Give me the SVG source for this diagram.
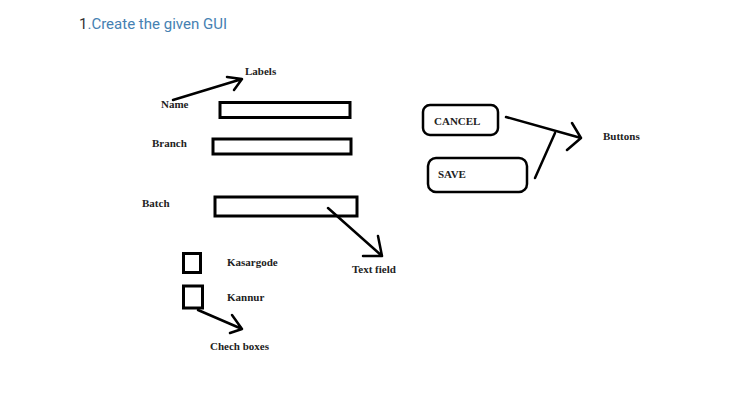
<svg xmlns="http://www.w3.org/2000/svg" width="743" height="414" viewBox="0 0 743 414">
<defs>
<style>
.lbl{font-family:"Liberation Serif","Times New Roman",serif;font-weight:bold;font-size:11px;fill:#222}
.box{fill:none;stroke:#000;stroke-width:3}
.btn{fill:none;stroke:#000;stroke-width:2.5}
.ln{fill:none;stroke:#000;stroke-width:2.5;stroke-linecap:round;stroke-linejoin:round}
</style>
</defs>
<rect width="743" height="414" fill="#fff"/>
<text x="79" y="29" font-family="Roboto,'Liberation Sans',sans-serif" font-size="15.5" fill="#4581b2" textLength="148" lengthAdjust="spacingAndGlyphs"><tspan fill="#333">1</tspan>.Create the given GUI</text>

<g id="name-label"><text class="lbl" x="161" y="108">Name</text></g>
<g id="branch-label"><text class="lbl" x="152" y="147">Branch</text></g>
<g id="batch-label"><text class="lbl" x="142" y="207">Batch</text></g>
<g id="labels-note"><text class="lbl" x="245" y="75">Labels</text></g>

<g id="name-field"><rect class="box" x="220" y="102.5" width="130" height="15"/></g>
<g id="branch-field"><rect class="box" x="213" y="139" width="138" height="15"/></g>
<g id="batch-field"><rect class="box" x="215" y="197" width="142" height="19"/></g>
<g id="textfield-note"><text class="lbl" x="352" y="273">Text field</text></g>

<g id="kasargode-box"><rect class="box" x="183.5" y="253.5" width="17" height="19"/></g>
<g id="kasargode-label"><text class="lbl" x="227" y="266">Kasargode</text></g>
<g id="kannur-box"><rect class="box" x="183.5" y="286" width="19" height="22"/></g>
<g id="kannur-label"><text class="lbl" x="227" y="301">Kannur</text></g>
<g id="checkbox-note"><text class="lbl" x="210" y="350">Chech boxes</text></g>

<g id="cancel-btn"><rect class="btn" x="423" y="105" width="75" height="30" rx="7"/><text class="lbl" x="434" y="125">CANCEL</text></g>
<g id="save-btn"><rect class="btn" x="428" y="158" width="99" height="34" rx="8"/><text class="lbl" x="438" y="178">SAVE</text></g>
<g id="buttons-note"><text class="lbl" x="603" y="140">Buttons</text></g>

<g id="connectors">
<path class="ln" d="M173 100 L242 79 M227 77 L242 79 L234 90"/>
<path class="ln" d="M328 208 L382 256 M378 236 L382 256 L363 256"/>
<path class="ln" d="M198 310 L242 329 M232 315 L242 329 L230 333"/>
<path class="ln" d="M506 117 L581 138 M572 123 L581 138 L567 150"/>
<path class="ln" d="M535 178 L555 133"/>
</g>
</svg>
